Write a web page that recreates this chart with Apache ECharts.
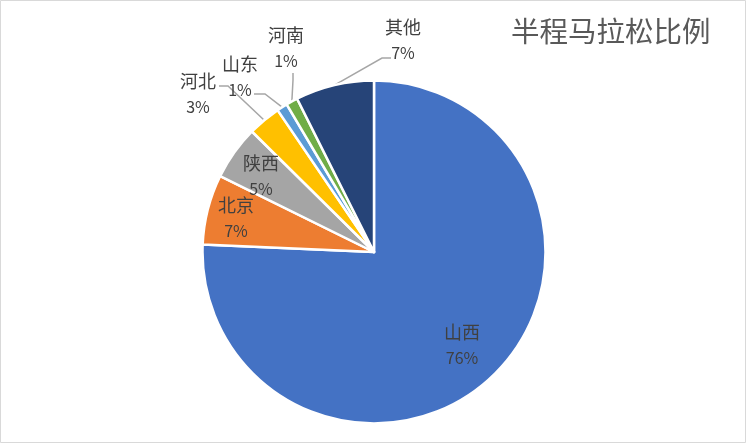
<!DOCTYPE html>
<html>
<head>
<meta charset="utf-8">
<style>
  html, body { margin: 0; padding: 0; background: #fff; }
  #chart { width: 747px; height: 447px; }
</style>
<script src="https://cdn.jsdelivr.net/npm/echarts@6/dist/echarts.min.js"></script>
</head>
<body>
<div id="chart"></div>
<script>
// Half-marathon participants by home province (share, %)
const categories = ['山西', '北京', '陕西', '河北', '山东', '河南', '其他'];
const shares = [75.7, 6.6, 5.1, 3.1, 1.0, 1.1, 7.4];
const sliceColors = ['#4472C4', '#ED7D31', '#A5A5A5', '#FFC000', '#5B9BD5', '#70AD47', '#264478'];
const chartTitle = '半程马拉松比例';

// Label placement: block centre, and for callout labels the start and elbow of the leader line
const labelLayouts = [
  { at: [462, 345] },
  { at: [236, 218] },
  { at: [261, 176] },
  { at: [198, 94], lineFrom: [219, 86], elbow: [228, 86] },
  { at: [240, 77], lineFrom: [254, 94], elbow: [265, 94] },
  { at: [286, 48], lineFrom: [293, 73], elbow: [293, 80] },
  { at: [403, 40], lineFrom: [391, 58], elbow: [382, 58] }
];
const calloutFrom = 3; // slices from this index on get outside labels with leader lines

const font = '"Noto Sans CJK SC", "Noto Sans", sans-serif';

const chart = echarts.init(document.getElementById('chart'), null, { renderer: 'canvas' });

chart.setOption({
  backgroundColor: '#ffffff',
  animation: false,
  title: {
    text: chartTitle,
    left: 506,
    top: 12,
    textStyle: { fontFamily: font, fontSize: 28.5, fontWeight: 'normal', color: '#595959' }
  },
  graphic: [{
    type: 'rect',
    silent: true,
    shape: { x: 0.5, y: 0.5, width: 745, height: 442 },
    style: { fill: 'none', stroke: '#d9d9d9', lineWidth: 1 }
  }],
  series: [{
    type: 'pie',
    center: [374, 252],
    radius: 171.5,
    startAngle: 90,
    clockwise: true,
    percentPrecision: 0,
    avoidLabelOverlap: false,
    itemStyle: { borderColor: '#ffffff', borderWidth: 2.5 },
    emphasis: { disabled: true },
    label: {
      formatter: '{n|{b}}\n{p|{d}%}',
      rich: {
        n: { fontFamily: font, fontSize: 18, color: '#404040', lineHeight: 25, align: 'center' },
        p: { fontFamily: font, fontSize: 16, color: '#404040', lineHeight: 25, align: 'center' }
      }
    },
    labelLine: {
      lineStyle: { color: '#a6a6a6', width: 1.5 }
    },
    labelLayout: function (params) {
      const cfg = labelLayouts[params.dataIndex];
      const out = { x: cfg.at[0], y: cfg.at[1], align: 'center', verticalAlign: 'middle' };
      if (cfg.lineFrom && params.labelLinePoints) {
        // leader line runs from the slice's own arc anchor to the label
        out.labelLinePoints = [params.labelLinePoints[0], cfg.elbow, cfg.lineFrom];
      }
      return out;
    },
    data: categories.map(function (name, i) {
      const callout = i >= calloutFrom;
      return {
        name: name,
        value: shares[i],
        itemStyle: { color: sliceColors[i] },
        label: { position: callout ? 'outside' : 'inside' },
        labelLine: { show: callout, length: 10, length2: 10 }
      };
    })
  }]
});
</script>
</body>
</html>
